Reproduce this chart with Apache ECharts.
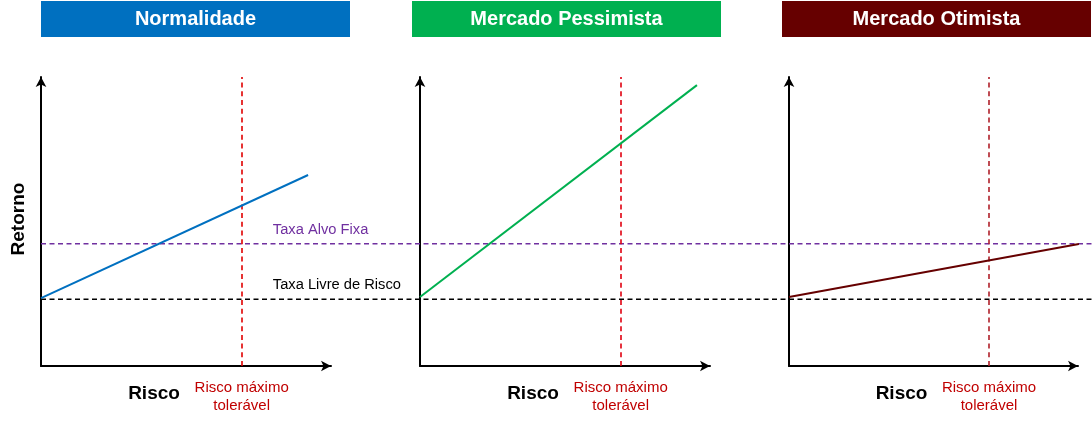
<!DOCTYPE html>
<html><head><meta charset="utf-8">
<script src="https://cdn.jsdelivr.net/npm/echarts@6/dist/echarts.min.js"></script>
<style>html,body{margin:0;padding:0;background:#fff;}#c{width:1092px;height:423px;}</style>
</head><body><div id="c"></div>
<script>
const panelTitles = ['Normalidade', 'Mercado Pessimista', 'Mercado Otimista'];
const panelColors = ['#0070C0', '#00B050', '#660000'];
const limitColors = ['#E00000', '#E00010', '#B0202A'];
const normalidade = [[0, 2.35], [9.21, 6.61]];
const pessimista = [[0, 2.39], [9.55, 9.72]];
const otimista = [[0, 2.39], [10.03, 4.22]];
const riscoMaximo = 6.92;
const taxaLivre = 2.31;
const taxaAlvo = 4.23;
const labelPos = 0.2205;
const xLabel = 'Risco';
const yLabel = 'Retorno';
const limitLabel = 'Risco máximo\ntolerável';
const alvoLabel = 'Taxa Alvo Fixa';
const livreLabel = 'Taxa Livre de Risco';

const seriesData = [normalidade, pessimista, otimista];
const FONT = "'Liberation Sans', Arial, sans-serif";
const lefts = [41, 420, 789];
const widths = [290, 290, 289];
const boxLefts = [41, 412, 782];
const TOP = 77, H = 289;

const grids = lefts.map((l, i) => ({left: l, top: TOP, width: widths[i], height: H}));
grids.push({left: 41, top: TOP, width: 1051, height: H});

const axisLine = {show: true, symbol: ['none', 'arrow'], symbolSize: [8, 10], lineStyle: {color: '#000', width: 2}};
const xAxes = lefts.map((l, i) => ({
  type: 'value', gridIndex: i, min: 0, max: 10,
  axisLine, axisTick: {show: false}, axisLabel: {show: false}, splitLine: {show: false},
  name: xLabel, nameLocation: 'middle', nameGap: 18,
  nameTextStyle: {fontFamily: FONT, fontSize: 19, fontWeight: 'bold', color: '#000', padding: [0, 64, 0, 0]}
}));
xAxes.push({type: 'value', gridIndex: 3, min: 0, max: 1, show: false});
const yAxes = lefts.map((l, i) => ({
  type: 'value', gridIndex: i, min: 0, max: 10,
  axisLine, axisTick: {show: false}, axisLabel: {show: false}, splitLine: {show: false},
  name: i === 0 ? yLabel : '', nameLocation: 'middle', nameGap: 13, nameRotate: 90,
  nameTextStyle: {fontFamily: FONT, fontSize: 19, fontWeight: 'bold', color: '#000', padding: [0, 0, 0, 5]}
}));
yAxes.push({type: 'value', gridIndex: 3, min: 0, max: 10, show: false});

const series = seriesData.map((d, i) => ({
  type: 'line', xAxisIndex: i, yAxisIndex: i, data: d, showSymbol: false, clip: false,
  lineStyle: {color: panelColors[i], width: 2}, z: 5, silent: true,
  markLine: {
    silent: true, symbol: 'none', animation: false,
    lineStyle: {color: limitColors[i], type: [5, 3.7], width: 1.6},
    label: {show: true, position: 'start', distance: 13, formatter: limitLabel,
      fontFamily: FONT, fontSize: 15, lineHeight: 18, color: '#C00000'},
    data: [[{coord: [riscoMaximo, 0]}, {coord: [riscoMaximo, 10]}]]
  }
}));
series.push({
  type: 'line', xAxisIndex: 3, yAxisIndex: 3, data: [[0, taxaAlvo], [1, taxaAlvo]],
  showSymbol: false, silent: true, z: 3, lineStyle: {color: '#7030A0', type: [5, 3.5], width: 1.6},
  markPoint: {symbol: 'circle', symbolSize: 0.1, silent: true,
    label: {show: true, position: 'right', distance: 0, offset: [0, -14], formatter: alvoLabel,
      fontFamily: FONT, fontSize: 14.7, color: '#7030A0'},
    data: [{coord: [labelPos, taxaAlvo]}]}
});
series.push({
  type: 'line', xAxisIndex: 3, yAxisIndex: 3, data: [[0, taxaLivre], [1, taxaLivre]],
  showSymbol: false, silent: true, z: 3, lineStyle: {color: '#000', type: [5, 3.5], width: 1.6},
  markPoint: {symbol: 'circle', symbolSize: 0.1, silent: true,
    label: {show: true, position: 'right', distance: 0, offset: [0, -14], formatter: livreLabel,
      fontFamily: FONT, fontSize: 14.7, color: '#000'},
    data: [{coord: [labelPos, taxaLivre]}]}
});

const graphic = [];
panelTitles.forEach((t, i) => {
  graphic.push({type: 'rect', left: boxLefts[i], top: 1, shape: {width: 309, height: 36}, style: {fill: panelColors[i]}, silent: true});
  graphic.push({type: 'text', x: boxLefts[i] + 154.5, y: 19, silent: true,
    style: {text: t, fill: '#fff', font: 'bold 20px ' + FONT, textAlign: 'center', textVerticalAlign: 'middle'}});
});

const chart = echarts.init(document.getElementById('c'), null, {renderer: 'canvas'});
chart.setOption({animation: false, grid: grids, xAxis: xAxes, yAxis: yAxes, series, graphic});
</script></body></html>
